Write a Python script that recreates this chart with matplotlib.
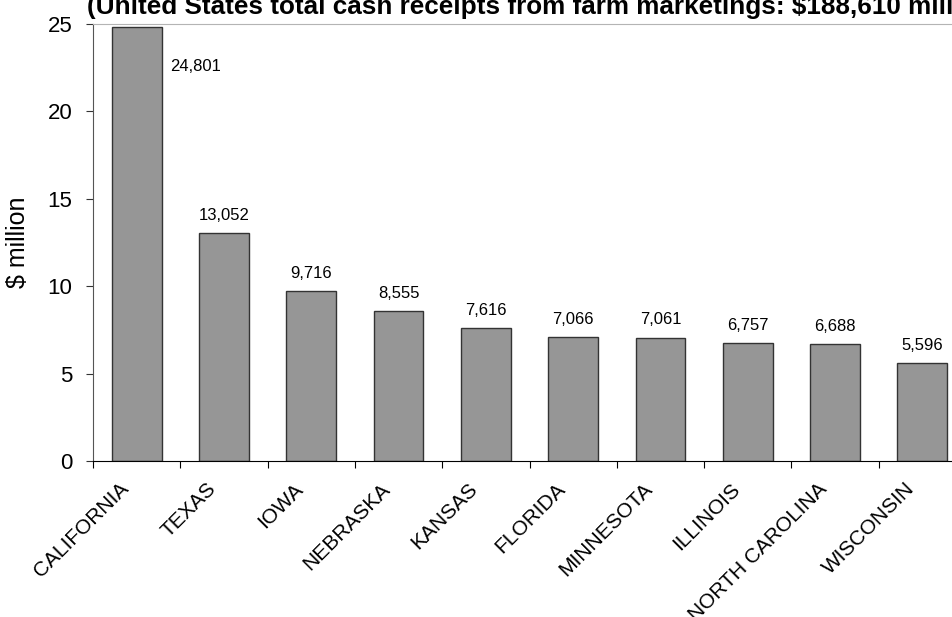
import matplotlib
matplotlib.use('Agg')
import matplotlib.pyplot as plt
import matplotlib.transforms as mtransforms

plt.rcParams['font.family'] = ['Liberation Sans', 'DejaVu Sans']

states = ['CALIFORNIA', 'TEXAS', 'IOWA', 'NEBRASKA', 'KANSAS', 'FLORIDA',
          'MINNESOTA', 'ILLINOIS', 'NORTH CAROLINA', 'WISCONSIN']
receipts = [24801, 13052, 9716, 8555, 7616, 7066, 7061, 6757, 6688, 5596]
title = '(United States total cash receipts from farm marketings: \\$188,610 million)'

fig = plt.figure(figsize=(9.52, 6.17), dpi=100)
ax = fig.add_axes([93 / 952, 1 - 461 / 617, 873 / 952, 437 / 617])

x = list(range(len(states)))
heights = [v / 1000 for v in receipts]
ax.bar(x, heights, width=0.57, color='#969696', edgecolor='#333333', linewidth=1, zorder=2)

# value labels, the tallest one sits beside its bar
for i, v in enumerate(receipts):
    label = f'{v:,}'
    if i == 0:
        ax.annotate(label, (i + 0.285, v / 1000), xytext=(6, -28), textcoords='offset points',
                    ha='left', va='center', fontsize=12)
    else:
        ax.annotate(label, (i, v / 1000), xytext=(0, 9.5), textcoords='offset points',
                    ha='center', va='baseline', fontsize=12)

ax.set_xlim(-0.5, len(states) - 0.5)
ax.set_ylim(0, 25)
ax.set_yticks([0, 5, 10, 15, 20, 25])
ax.tick_params(axis='y', direction='out', length=5, pad=10, labelsize=16, color='#333333')

# ticks between categories, labels under category centres
ax.set_xticks([i - 0.5 for i in range(len(states) + 1)])
ax.set_xticklabels([])
ax.set_xticks(x, minor=True)
ax.set_xticklabels(states, minor=True, rotation=45, ha='right', va='center',
                   rotation_mode='anchor', fontsize=15)
ax.tick_params(axis='x', which='major', direction='out', length=5, color='black')
ax.tick_params(axis='x', which='minor', length=0, pad=18)
shift = mtransforms.ScaledTranslation(-11 / 100, 0, fig.dpi_scale_trans)
for lab in ax.get_xticklabels(minor=True):
    lab.set_transform(lab.get_transform() + shift)

ax.spines['bottom'].set_color('black')
ax.spines['left'].set_color('#555555')
ax.spines['top'].set_color('#b4b4b4')
ax.spines['right'].set_color('#b4b4b4')

ax.set_ylabel('\\$ million', fontsize=18)
ax.yaxis.label.set_va('center')
ax.yaxis.set_label_coords(-75 / 873, 0.5)

fig.text(87 / 952, 1 - 14 / 617, title, fontsize=18.8, fontweight='bold', va='baseline', ha='left')

plt.savefig('out.png', dpi=100)
